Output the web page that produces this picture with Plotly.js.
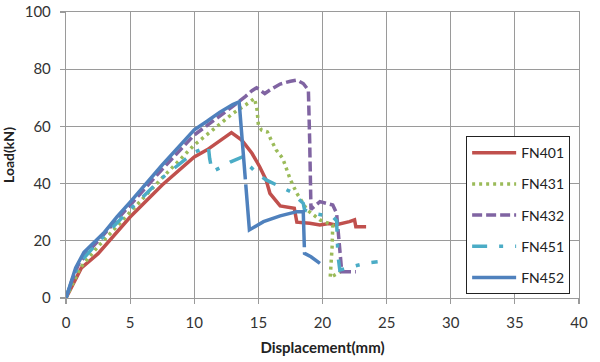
<!DOCTYPE html>
<html>
<head>
<meta charset="utf-8">
<script src="https://cdn.plot.ly/plotly-3.0.1.min.js"></script>
<style>html,body{margin:0;padding:0;background:#fff;}#chart{width:600px;height:362px;}</style>
</head>
<body>
<div id="chart"></div>
<script>
// Displacement (mm) / Load (kN)
const fn401X = [0, 0.5, 1.2, 2.5, 5, 7.5, 10, 11, 12, 12.9, 13.7, 14.5, 15.1, 15.6, 15.9, 16.7, 17.8, 18.0, 19.0, 19.8, 20.5, 21.0, 22.1, 22.5, 22.6, 23.4];
const fn401Y = [0, 4.5, 10.5, 15.5, 28.3, 39.5, 49.3, 51.8, 55, 57.8, 55.2, 50.6, 45.9, 41.3, 36.6, 32.2, 31.4, 26.5, 26.1, 25.5, 26.0, 25.5, 26.7, 27.3, 24.9, 24.9];

const fn431X = [0, 0.5, 1.1, 2.5, 5, 7.5, 10, 12, 13, 14, 14.7, 14.9, 15.0, 15.25, 15.7, 16.0, 16.4, 16.9, 17.5, 18.0, 18.8, 19.8, 20.8, 20.75, 20.6, 21.2, 21.6];
const fn431Y = [0, 5, 10.5, 18, 30, 42, 53.5, 61, 64.5, 67.5, 69.8, 65.7, 60.5, 58.7, 58.1, 55.2, 51.7, 48.8, 41.3, 36.6, 30.8, 27.3, 25.5, 18, 7.2, 8.6, 9.8];

const fn432X = [0, 0.45, 1.0, 2.0, 5, 7.5, 10, 12, 13, 14, 14.5, 14.86, 15.5, 16.0, 16.7, 17.5, 18.0, 18.5, 18.9, 19.0, 19.1, 19.8, 20.3, 20.8, 21.1, 21.5, 22.6];
const fn432Y = [0, 6, 12, 17.5, 32.5, 45, 57, 63.5, 67, 70.5, 72.5, 73.5, 71.5, 73, 74.8, 75.8, 76.2, 75, 72.7, 55, 31, 33.7, 33.1, 32.5, 29.6, 9.2, 9.2];

const fn451X = [0, 0.6, 1.2, 2.5, 5, 7.5, 10, 10.5, 11.1, 11.2, 11.4, 12.0, 12.8, 13.8, 14.1, 14.9, 15.6, 16.7, 17.5, 18.5, 18.6, 19.3, 20.8, 21.1, 21.2, 21.35, 22.4, 23.4, 24.3];
const fn451Y = [0, 8, 13, 19.5, 31, 42, 51, 52, 53, 48.8, 44.2, 45.5, 47.5, 49.4, 47.1, 43.6, 41.3, 38.9, 37.2, 33.1, 30.8, 29.6, 28.4, 27, 15, 9.8, 11, 12.2, 12.7];

const fn452X = [0, 0.4, 0.75, 1.4, 2, 3, 4, 5, 7.5, 10, 11, 12, 13, 13.4, 13.5, 14.3, 15.4, 16.7, 18.0, 18.5, 18.6, 19.1, 19.8];
const fn452Y = [0, 6, 10.5, 16, 18.5, 23, 28.5, 33.5, 46.5, 58.8, 61.8, 65, 67.6, 68.6, 68.6, 23.8, 26.7, 28.7, 30.2, 30.2, 15.6, 14.4, 12.1];

const seriesNames = ['FN401', 'FN431', 'FN432', 'FN451', 'FN452'];
const xTicks = [0, 5, 10, 15, 20, 25, 30, 35, 40];
const yTicks = [0, 20, 40, 60, 80, 100];

const xs = [fn401X, fn431X, fn432X, fn451X, fn452X];
const ys = [fn401Y, fn431Y, fn432Y, fn451Y, fn452Y];
const colors = ['#C0504D', '#9BBB59', '#8064A2', '#4BACC6', '#4F81BD'];
const dashes = ['solid', '3px,4px', '10px,4px', '15px,12px,4px,12px', '345px,5px,139px,5px'];

const traces = seriesNames.map((n, i) => ({
  x: xs[i], y: ys[i], name: n, type: 'scatter', mode: 'lines',
  legendgroup: n,
  line: {color: colors[i], width: 3.5, dash: dashes[i]}
}));

const FONT = 'Lato, "Liberation Sans", sans-serif';
const layout = {
  width: 600, height: 362,
  margin: {l: 66, r: 21, t: 12, b: 64},
  paper_bgcolor: '#fff', plot_bgcolor: '#fff',
  font: {family: FONT, size: 14, color: '#333'},
  showlegend: true,
  legend: {
    x: 0.78, y: 0.566, xanchor: 'left', yanchor: 'top',
    bgcolor: '#fff', bordercolor: '#222', borderwidth: 1,
    font: {family: FONT, size: 14, color: '#222'},
    tracegroupgap: 10,
    itemwidth: 44,
    traceorder: 'grouped'
  },
  xaxis: {
    range: [0, 40], tickvals: xTicks, ticktext: xTicks.map(String),
    showgrid: true, gridcolor: '#9a9a9a', gridwidth: 1.2,
    showline: true, linecolor: '#9a9a9a', linewidth: 1.2, mirror: true,
    zeroline: false,
    ticks: 'outside', ticklen: 5, tickcolor: '#9a9a9a', tickwidth: 1.2,
    ticklabelstandoff: 6,
    tickfont: {size: 15, color: '#333'},
    title: {text: '<b>Displacement(mm)</b>', font: {size: 15, color: '#222'}, standoff: 12}
  },
  yaxis: {
    range: [0, 100], tickvals: yTicks, ticktext: yTicks.map(String),
    showgrid: true, gridcolor: '#9a9a9a', gridwidth: 1.2,
    showline: true, linecolor: '#9a9a9a', linewidth: 1.2, mirror: true,
    zeroline: false,
    ticks: 'outside', ticklen: 5, tickcolor: '#9a9a9a', tickwidth: 1.2,
    ticklabelstandoff: 6,
    tickfont: {size: 15, color: '#333'},
    title: {text: '<b>Load(kN)</b>', font: {size: 14, color: '#222'}, standoff: 8}
  }
};

Plotly.newPlot('chart', traces, layout, {displayModeBar: false, staticPlot: true});
</script>
</body>
</html>
